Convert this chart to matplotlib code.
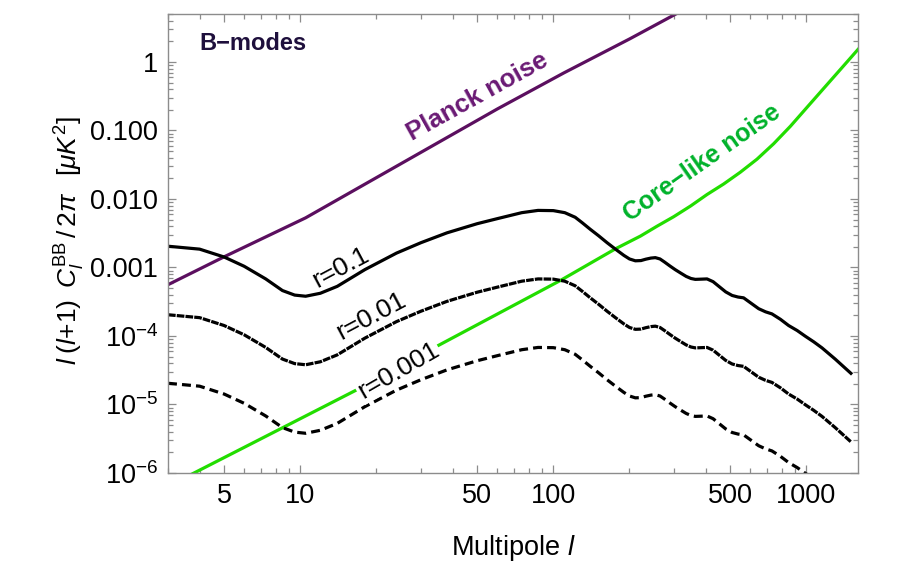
import matplotlib.pyplot as plt
from matplotlib.ticker import NullFormatter, LogLocator

plt.rcParams['font.family'] = ['Liberation Sans', 'DejaVu Sans']
plt.rcParams['mathtext.fontset'] = 'custom'
plt.rcParams['mathtext.rm'] = 'Liberation Sans'
plt.rcParams['mathtext.it'] = 'Liberation Sans:italic'
plt.rcParams['mathtext.bf'] = 'Liberation Sans:bold'

# primordial BB spectra, l(l+1)C_l/2pi in muK^2
ell_bb = [3, 4, 5, 6, 7.3, 8.5, 9.5, 10.5, 12, 14, 18, 24, 30, 38, 50,
          60, 75, 87, 100, 111, 122, 130, 140, 151, 163, 176, 190, 200, 211, 222,
          232, 243, 253, 264, 275, 289, 303, 320, 335, 350, 364, 385, 405, 428, 451,
          480, 509, 537, 565, 605, 648, 690, 731, 790, 851, 920, 991, 1070, 1153, 1300, 1500]
bb_r01 = [2.04e-3, 1.85e-3, 1.42e-3, 1.04e-3, 6.8e-4, 4.6e-4, 3.95e-4, 3.8e-4, 4.2e-4,
          5.3e-4, 9.3e-4, 1.62e-3, 2.3e-3, 3.2e-3, 4.35e-3, 5.15e-3, 6.3e-3, 6.8e-3,
          6.75e-3, 6.3e-3, 5.4e-3, 4.5e-3, 3.6e-3, 2.9e-3, 2.3e-3, 1.85e-3, 1.5e-3,
          1.33e-3, 1.25e-3, 1.26e-3, 1.32e-3, 1.37e-3, 1.39e-3, 1.33e-3, 1.2e-3, 1.05e-3,
          9.3e-4, 8.2e-4, 7.4e-4, 6.9e-4, 6.7e-4, 6.75e-4, 6.8e-4, 6.2e-4, 5.3e-4,
          4.4e-4, 3.9e-4, 3.7e-4, 3.6e-4, 3.0e-4, 2.5e-4, 2.25e-4, 2.1e-4, 1.75e-4,
          1.42e-4, 1.2e-4, 9.9e-5, 8.2e-5, 6.7e-5, 4.6e-5, 2.85e-5]
bb_r001 = [2.04e-4, 1.85e-4, 1.42e-4, 1.04e-4, 6.8e-5, 4.6e-5, 3.95e-5, 3.8e-5, 4.2e-5,
           5.3e-5, 9.3e-5, 1.62e-4, 2.3e-4, 3.2e-4, 4.35e-4, 5.15e-4, 6.3e-4, 6.8e-4,
           6.75e-4, 6.3e-4, 5.4e-4, 4.5e-4, 3.6e-4, 2.9e-4, 2.3e-4, 1.85e-4, 1.5e-4,
           1.33e-4, 1.25e-4, 1.26e-4, 1.32e-4, 1.37e-4, 1.39e-4, 1.33e-4, 1.2e-4, 1.05e-4,
           9.3e-5, 8.2e-5, 7.4e-5, 6.9e-5, 6.7e-5, 6.75e-5, 6.8e-5, 6.2e-5, 5.3e-5,
           4.4e-5, 3.9e-5, 3.7e-5, 3.6e-5, 3.0e-5, 2.5e-5, 2.25e-5, 2.1e-5, 1.75e-5,
           1.42e-5, 1.2e-5, 9.9e-6, 8.2e-6, 6.7e-6, 4.6e-6, 2.85e-6]
bb_r0001 = [2.04e-5, 1.85e-5, 1.42e-5, 1.04e-5, 6.8e-6, 4.6e-6, 3.95e-6, 3.8e-6, 4.2e-6,
            5.3e-6, 9.3e-6, 1.62e-5, 2.3e-5, 3.2e-5, 4.35e-5, 5.15e-5, 6.3e-5, 6.8e-5,
            6.75e-5, 6.3e-5, 5.4e-5, 4.5e-5, 3.6e-5, 2.9e-5, 2.3e-5, 1.85e-5, 1.5e-5,
            1.33e-5, 1.25e-5, 1.26e-5, 1.32e-5, 1.37e-5, 1.39e-5, 1.33e-5, 1.2e-5, 1.05e-5,
            9.3e-6, 8.2e-6, 7.4e-6, 6.9e-6, 6.7e-6, 6.75e-6, 6.8e-6, 6.2e-6, 5.3e-6,
            4.4e-6, 3.9e-6, 3.7e-6, 3.6e-6, 3.0e-6, 2.5e-6, 2.25e-6, 2.1e-6, 1.75e-6,
            1.42e-6, 1.2e-6, 9.9e-7, 8.2e-7, 6.7e-7, 4.6e-7, 2.85e-7]

# instrumental noise curves
ell_planck = [3, 5, 10.5, 60, 110, 201, 308, 340]
planck_noise = [5.6e-4, 1.43e-3, 5.3e-3, 0.205, 0.69, 2.18, 5.1, 6.3]

ell_core = [3.7, 8.73, 17, 35.2, 107, 176, 221, 257, 299, 349, 405, 471, 548, 638, 743,
            865, 1007, 1172, 1365, 1600]
core_noise = [0.95e-6, 4.8e-6, 1.69e-5, 7.3e-5, 6.5e-4, 1.87e-3, 2.87e-3, 4.0e-3, 5.5e-3,
              7.9e-3, 0.0116, 0.0165, 0.0245, 0.038, 0.064, 0.115, 0.218, 0.412, 0.78, 1.52]

x_ticks = [5, 10, 50, 100, 500, 1000]
x_tick_labels = ['5', '10', '50', '100', '500', '1000']
y_ticks = [1e-6, 1e-5, 1e-4, 1e-3, 1e-2, 1e-1, 1]
y_tick_labels = ['$10^{-6}$', '$10^{-5}$', '$10^{-4}$', '0.001', '0.010', '0.100', '1']

purple = '#5b0f5f'
green = '#22dd00'
frame = '#8c8c8c'

fig = plt.figure(figsize=(9.19, 5.65), dpi=100)
ax = fig.add_axes([168 / 919, 1 - 473 / 565, 690 / 919, 459 / 565])

ax.plot(ell_planck, planck_noise, color=purple, lw=2.3)
ax.plot(ell_core, core_noise, color=green, lw=2.3)
ax.plot(ell_bb, bb_r01, color='black', lw=2.3)
ax.plot(ell_bb, bb_r001, color='black', lw=2.3, dashes=(2.4, 0.35))
ax.plot(ell_bb, bb_r0001, color='black', lw=2.3, dashes=(2.8, 1.6))

ax.set_xscale('log')
ax.set_yscale('log')
ax.set_xlim(3, 1600)
ax.set_ylim(1e-6, 5)

ax.set_xticks(x_ticks, x_tick_labels)
ax.set_yticks(y_ticks, y_tick_labels)
ax.xaxis.set_minor_locator(LogLocator(base=10, subs=range(2, 10)))
ax.yaxis.set_minor_locator(LogLocator(base=10, subs=range(2, 10), numticks=20))
ax.xaxis.set_minor_formatter(NullFormatter())
ax.yaxis.set_minor_formatter(NullFormatter())
ax.tick_params(which='both', direction='in', top=True, right=True, color=frame,
               labelsize=19.5, width=0.9)
ax.tick_params(which='major', length=6, pad=7)
ax.tick_params(which='minor', length=3.5)
for sp in ax.spines.values():
    sp.set_color(frame)
    sp.set_linewidth(1.0)

fig.text(513 / 919, 1 - 548 / 565, r'Multipole $l$', ha='center', va='center', fontsize=19.5)
fig.text(70 / 919, 1 - 241 / 565,
         r'$l\;(l{+}1)\;\;C_l^{\mathrm{BB}}\,/\,2\pi\;\;\;[\mu K^2]$',
         ha='center', va='center', rotation=90, fontsize=19)

ax.text(0.046, 0.935, 'B\u2212modes', transform=ax.transAxes, ha='left', va='center',
        fontsize=17, fontweight='bold', color='#1e0f3c')
ax.text(50, 0.31, 'Planck noise', rotation=29, rotation_mode='anchor', ha='center',
        va='center', fontsize=18.5, fontweight='bold', color='#6a1a74')
ax.text(388, 0.033, 'Core\u2212like noise', rotation=35, rotation_mode='anchor', ha='center',
        va='center', fontsize=18, fontweight='bold', color='#00b22a')
ax.text(14.4, 1.0e-3, 'r=0.1', rotation=28, rotation_mode='anchor', ha='center',
        va='center', fontsize=19)
ax.text(19.1, 1.93e-4, 'r=0.01', rotation=28, rotation_mode='anchor', ha='center',
        va='center', fontsize=19)
ax.text(24.4, 3.13e-5, 'r=0.001', rotation=30, rotation_mode='anchor', ha='center',
        va='center', fontsize=19, zorder=5,
        bbox=dict(boxstyle='square,pad=0.05', facecolor='white', edgecolor='none'))

fig.savefig('out.png', dpi=100)
